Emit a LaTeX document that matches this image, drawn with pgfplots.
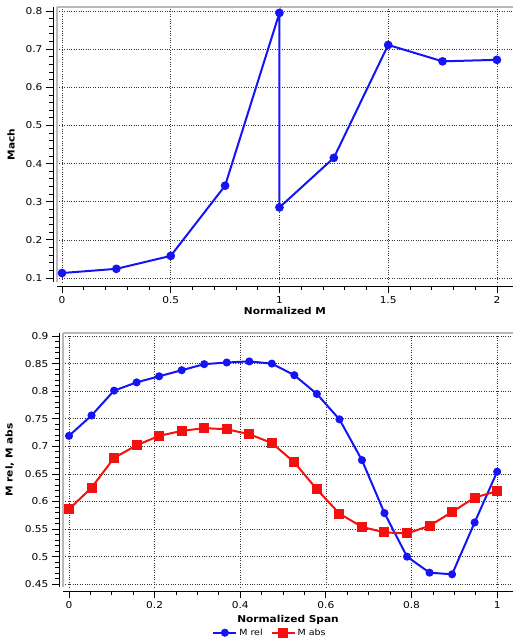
\documentclass[border=0pt]{standalone}
\usepackage{pgfplots}
\usepackage{pgfplotstable}
\pgfplotsset{compat=1.18}
\usepackage{fontspec}
\setmainfont{DejaVu Sans}[FakeStretch=1.12]
\definecolor{myblue}{RGB}{20,20,245}
\definecolor{myred}{RGB}{245,15,15}

\pgfplotstableread{
x      mrel   mabs
0      0.719  0.586
0.0526 0.756  0.625
0.1053 0.801  0.679
0.1579 0.816  0.702
0.2105 0.827  0.719
0.2632 0.838  0.728
0.3158 0.849  0.733
0.3684 0.852  0.731
0.4211 0.854  0.722
0.4737 0.850  0.706
0.5263 0.829  0.671
0.5789 0.795  0.622
0.6316 0.749  0.578
0.6842 0.675  0.554
0.7368 0.579  0.544
0.7895 0.500  0.542
0.8421 0.471  0.556
0.8947 0.468  0.581
0.9474 0.562  0.607
1      0.654  0.619
}\spandata

\pgfplotsset{
  mystyle/.style={
    scale only axis,
    axis x line*=bottom, axis y line*=left,
    axis x line shift=4bp, axis y line shift=4bp,
    tick align=outside,
    major tick length=7bp, minor tick length=4bp,
    grid=major,
    grid style={dotted, black!80, line width=0.6pt},
    tick label style={font=\fontsize{9.5}{10}\selectfont, black},
    label style={font=\bfseries\fontsize{9.5}{10}\selectfont},
    /pgf/number format/assume math mode=true,
    tick style={black, line width=0.8pt},
    axis line style={black, line width=0.8pt},
    every axis plot/.append style={line width=2bp},
    clip=false,
  }
}

\begin{document}
\begin{tikzpicture}
\useasboundingbox (0bp,0bp) rectangle (513bp,642bp);

\begin{axis}[mystyle,
  at={(57bp,360bp)}, anchor=south west,
  width=456bp, height=275bp,
  xmin=-0.023, xmax=2.074, ymin=0.0895, ymax=0.8105,
  xtick={0,0.5,1,1.5,2}, ytick={0.1,0.2,0.3,0.4,0.5,0.6,0.7,0.8},
  minor x tick num=4, minor y tick num=4,
  xlabel={Normalized M}, ylabel={Mach},
  xlabel style={yshift=3bp},
  ylabel style={yshift=4bp},
]
\draw[gray!55, line width=2.5bp] (rel axis cs:0,0) -- (rel axis cs:0,1);
\draw[gray!55, line width=1.2bp] (rel axis cs:0,1) -- (rel axis cs:1,1);
\addplot[myblue, mark=*, mark size=3.3bp, mark options={solid}] coordinates {
(0,0.113)(0.25,0.124)(0.5,0.158)(0.75,0.342)(1,0.795)(1,0.285)(1.25,0.415)(1.5,0.711)(1.75,0.668)(2,0.672)};
\end{axis}

\begin{axis}[mystyle,
  at={(63bp,55bp)}, anchor=south west,
  width=450bp, height=254bp,
  xmin=-0.014, xmax=1.037, ymin=0.445, ymax=0.9055,
  xtick={0,0.2,0.4,0.6,0.8,1},
  ytick={0.45,0.5,0.55,0.6,0.65,0.7,0.75,0.8,0.85,0.9},
  minor x tick num=3, minor y tick num=4,
  xlabel={Normalized Span}, ylabel={M rel, M abs},
  xlabel style={yshift=0bp},
  ylabel style={yshift=4bp},
  legend columns=2,
  legend style={draw=none, fill=none, at={(0.46,-0.18)}, anchor=center,
    font=\fontsize{8.5}{9}\selectfont,
    /tikz/every even column/.append style={column sep=6bp}},
  legend image code/.code={
    \draw[#1] (0bp,0bp) -- (23bp,0bp);
    \draw[#1, only marks] plot coordinates {(11.5bp,0bp)};
  },
]
\draw[gray!55, line width=2.5bp] (rel axis cs:0,0) -- (rel axis cs:0,1);
\draw[gray!55, line width=1.2bp] (rel axis cs:0,1) -- (rel axis cs:1,1);
\addplot[myblue, mark=*, mark size=3bp] table[x=x, y=mrel] {\spandata};
\addlegendentry{M rel}
\addplot[myred, mark=square*, mark size=4bp] table[x=x, y=mabs] {\spandata};
\addlegendentry{M abs}
\end{axis}
\end{tikzpicture}
\end{document}
